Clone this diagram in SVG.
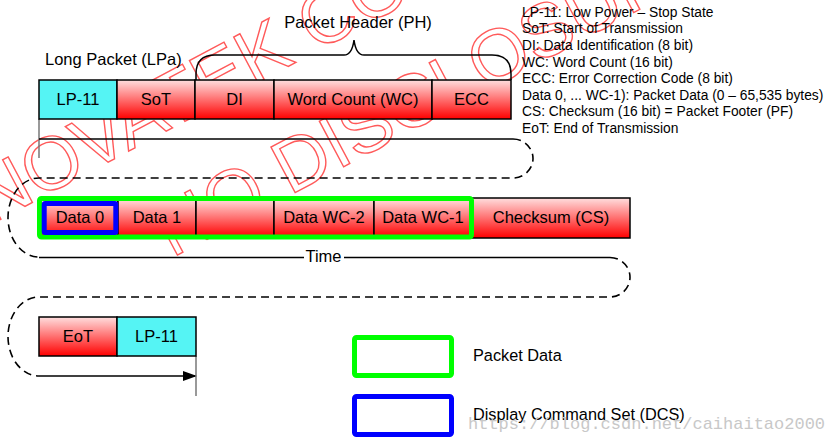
<svg xmlns="http://www.w3.org/2000/svg" width="828" height="444" viewBox="0 0 828 444">
<defs>
<linearGradient id="red" x1="0" y1="0" x2="0" y2="1">
<stop offset="0" stop-color="#ffdede"/>
<stop offset="1" stop-color="#ff0000"/>
</linearGradient>
<marker id="arr" markerWidth="14" markerHeight="10" refX="13" refY="5" orient="auto" markerUnits="userSpaceOnUse">
<path d="M0,0 L14,5 L0,10 Z" fill="#000"/>
</marker>
<style>
text{font-family:"Liberation Sans",Arial,sans-serif;fill:#000}
.lbl{font-size:16.5px;text-anchor:middle}
.leg{font-size:13.8px}
.rbox{fill:url(#red);stroke:#000;stroke-width:1.5}
.cbox{fill:#55f4f4;stroke:#000;stroke-width:1.5}
.dash{fill:none;stroke:#000;stroke-width:1.6;stroke-dasharray:8 5}
.solid{fill:none;stroke:#000;stroke-width:1.3}
.grey{fill:none;stroke:#777;stroke-width:1.5}
.wm{font-size:75px;fill:none;stroke:#ff5a5a;stroke-width:1.4}
.grn{fill:none;stroke:#00ff00;stroke-width:5}
.blu{fill:none;stroke:#0000ff;stroke-width:5}
</style>
</defs>
<rect width="828" height="444" fill="#fff"/>
<g id="watermark">
<text class="wm" transform="translate(-10,225) rotate(-28)">NOVATEK CONF</text>
<text class="wm" transform="translate(172,258) rotate(-28)">NO DISCLOSURE</text>
</g>
<g id="connectors">
<path class="grey" d="M39,119 V158"/>
<path class="solid" d="M39,139 H513"/>
<path class="dash" d="M513,139 A20,19.5 0 0 1 513,178 H39 A31,39.5 0 0 0 39,257"/>
<path class="solid" d="M39,257.5 H304 M344,257.5 H610"/>
<path class="dash" d="M610,257.5 A20,19.75 0 0 1 610,297 H39 A31,39.5 0 0 0 39,376"/>
<path class="solid" d="M39,376 H196" marker-end="url(#arr)"/>
<path class="grey" d="M196,356 V396"/>
<path fill="none" stroke="#000" stroke-width="1.5" d="M196,80 V74 Q196,55 215,55 H344 Q352,55 354,40 Q356,55 364,55 H492 Q511,55 511,74 V80"/>
</g>
<g id="labels">
<text x="45" y="65" style="font-size:16.5px">Long Packet (LPa)</text>
<text x="358" y="28" class="lbl">Packet Header (PH)</text>
<text x="323.5" y="262" class="lbl">Time</text>
</g>
<g id="lp11-a"><rect class="cbox" x="39" y="80" width="78" height="39"/><text class="lbl" x="78" y="104.5">LP-11</text></g>
<g id="sot"><rect class="rbox" x="117" y="80" width="78" height="39"/><text class="lbl" x="156" y="104.5">SoT</text></g>
<g id="di"><rect class="rbox" x="195" y="80" width="79" height="39"/><text class="lbl" x="234.5" y="104.5">DI</text></g>
<g id="wc"><rect class="rbox" x="274" y="80" width="158" height="39"/><text class="lbl" x="353" y="104.5">Word Count (WC)</text></g>
<g id="ecc"><rect class="rbox" x="432" y="80" width="79" height="39"/><text class="lbl" x="471.5" y="104.5">ECC</text></g>
<g id="legend-text">
<text class="leg" x="522" y="16.7">LP-11: Low Power – Stop State</text>
<text class="leg" x="522" y="33.3">SoT: Start of Transmission</text>
<text class="leg" x="522" y="49.9">DI: Data Identification (8 bit)</text>
<text class="leg" x="522" y="66.5">WC: Word Count (16 bit)</text>
<text class="leg" x="522" y="83.1">ECC: Error Correction Code (8 bit)</text>
<text class="leg" x="522" y="99.7">Data 0, ... WC-1): Packet Data (0 – 65,535 bytes)</text>
<text class="leg" x="522" y="116.3">CS: Checksum (16 bit) = Packet Footer (PF)</text>
<text class="leg" x="522" y="132.9">EoT: End of Transmission</text>
</g>
<g id="data0"><rect class="rbox" x="40" y="199" width="78" height="38"/><text class="lbl" x="80" y="222.5">Data 0</text></g>
<g id="data1"><rect class="rbox" x="118" y="199" width="78" height="38"/><text class="lbl" x="157" y="222.5">Data 1</text></g>
<g id="dataN"><rect class="rbox" x="196" y="199" width="78" height="38"/></g>
<g id="datawc2"><rect class="rbox" x="274" y="199" width="100" height="38"/><text class="lbl" x="324" y="222.5">Data WC-2</text></g>
<g id="datawc1"><rect class="rbox" x="374" y="199" width="98" height="38"/><text class="lbl" x="423" y="222.5">Data WC-1</text></g>
<g id="checksum"><rect class="rbox" x="472" y="198" width="158" height="40"/><text class="lbl" x="551" y="223">Checksum (CS)</text></g>
<g id="packet-data-frame"><rect class="grn" x="39.5" y="198.5" width="432" height="38.5" rx="2"/></g>
<g id="dcs-frame"><rect class="blu" x="44.2" y="203.5" width="71.6" height="29" rx="1"/></g>
<g id="eot"><rect class="rbox" x="39" y="317" width="78" height="39"/><text class="lbl" x="78" y="341.5">EoT</text></g>
<g id="lp11-b"><rect class="cbox" x="117" y="317" width="79" height="39"/><text class="lbl" x="156.5" y="341.5">LP-11</text></g>
<g id="legend-packet-data"><rect class="grn" x="354.5" y="337.5" width="97" height="38" rx="2"/><text x="473" y="361" style="font-size:16.3px">Packet Data</text></g>
<g id="legend-dcs"><rect class="blu" x="354.5" y="396.5" width="97" height="38" rx="2"/><text x="473" y="420" style="font-size:16.3px">Display Command Set (DCS)</text></g>
<text x="468" y="429" style="font-family:'Liberation Mono',monospace;font-size:17px;fill:#c8c8c8">https://blog.csdn.net/caihaitao2000</text>
</svg>
